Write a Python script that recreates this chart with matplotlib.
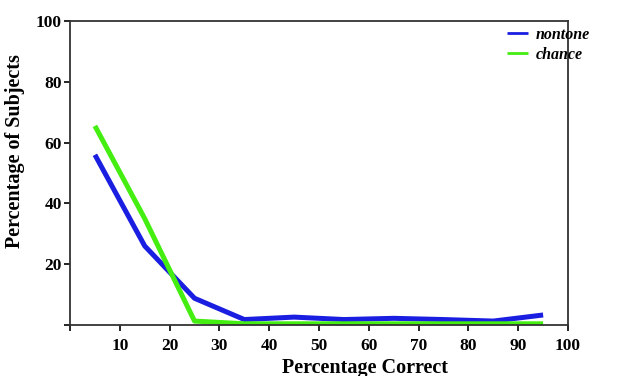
import matplotlib
matplotlib.use("Agg")
import matplotlib.pyplot as plt

# data
pct_correct = [5, 15, 25, 35, 45, 55, 65, 75, 85, 95]
nontone = [56, 26, 8.8, 1.8, 2.6, 1.8, 2.2, 1.8, 1.3, 3.3]
chance = [65.5, 35, 1.3, 0.4, 0.4, 0.4, 0.4, 0.4, 0.4, 0.4]
xticks = [10, 20, 30, 40, 50, 60, 70, 80, 90, 100]
yticks = [20, 40, 60, 80, 100]

plt.rcParams['font.family'] = ['Liberation Serif', 'DejaVu Serif']

fig = plt.figure(figsize=(6.28, 3.76), dpi=100)
ax = fig.add_axes([0.1115, 0.1356, 0.793, 0.8084])

ax.plot(pct_correct, nontone, color='#1a1ee0', lw=3.6, label='nontone', solid_capstyle='butt')
ax.plot(pct_correct, chance, color='#44ee11', lw=3.6, label='chance', solid_capstyle='butt')

ax.set_xlim(0, 100)
ax.set_ylim(0, 100)
ax.set_xticks([0] + xticks)
ax.set_xticklabels([''] + [str(t) for t in xticks])
ax.set_yticks([0] + yticks)
ax.set_yticklabels([''] + [str(t) for t in yticks])
ax.tick_params(direction='out', length=4, width=1.2, labelsize=12.5)
ax.tick_params(axis='x', pad=5)
ax.tick_params(axis='y', pad=2)
for lab in ax.get_xticklabels() + ax.get_yticklabels():
    lab.set_fontweight('bold')
for s in ax.spines.values():
    s.set_linewidth(1.3)
    s.set_color('#333333')

ax.set_xlabel('Percentage Correct', fontsize=14.5, fontweight='bold')
ax.xaxis.set_label_coords(0.592, -0.11)
ax.set_ylabel('Percentage of Subjects', fontsize=14.5, fontweight='bold')
ax.yaxis.set_label_coords(-0.09, 0.572)

leg = ax.legend(loc='upper right', bbox_to_anchor=(590 / 628, 1 - 27 / 376),
                bbox_transform=fig.transFigure, frameon=False,
                handlelength=1.3, handletextpad=0.5, borderaxespad=0, borderpad=0,
                labelspacing=0.25,
                prop={'family': 'Liberation Serif', 'weight': 'bold', 'style': 'italic', 'size': 11.5})
for h in leg.get_lines():
    h.set_linewidth(2)

fig.savefig('out.png', dpi=100)
